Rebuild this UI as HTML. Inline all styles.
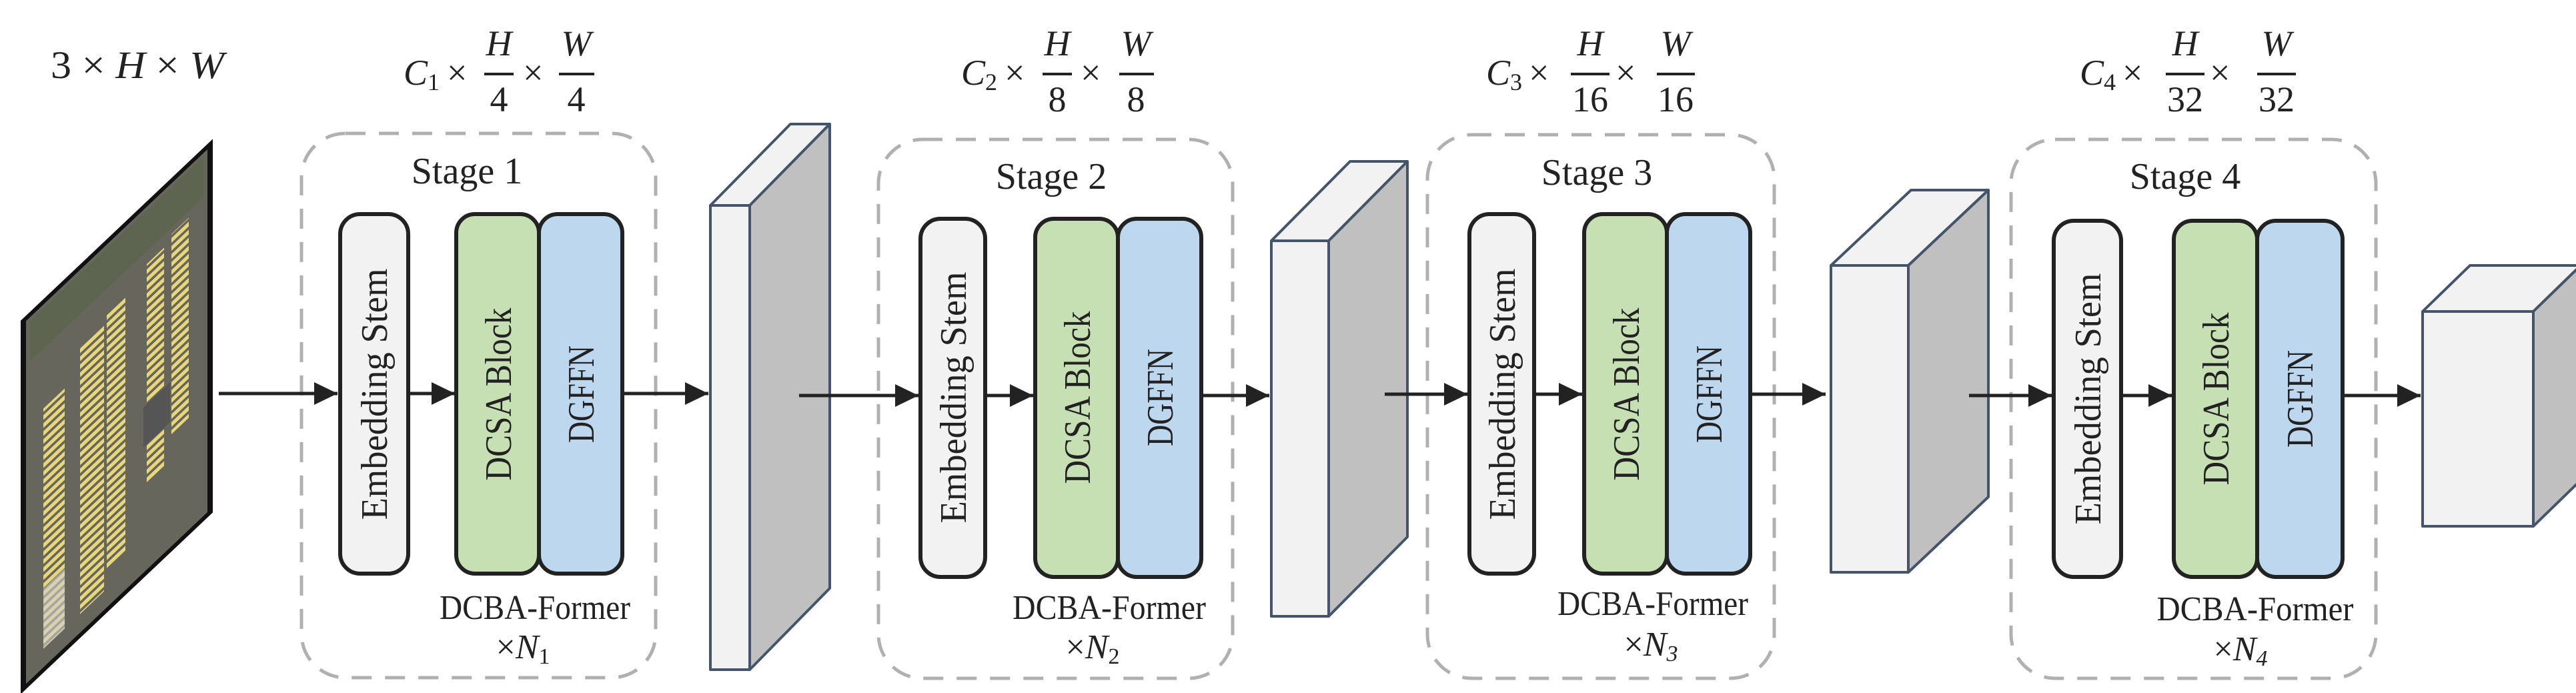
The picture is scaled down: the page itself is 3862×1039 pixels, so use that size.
<!DOCTYPE html>
<html><head><meta charset="utf-8"><style>
html,body{margin:0;padding:0;background:#fff;}
svg{display:block;}
text{font-family:"Liberation Serif",serif;fill:#222;}
.it{font-style:italic;}
</style></head><body>
<svg width="3862" height="1039" viewBox="0 0 3862 1039" xmlns="http://www.w3.org/2000/svg">
<defs>
<marker id="ah" markerWidth="8" markerHeight="8" refX="7" refY="4" orient="auto" markerUnits="strokeWidth">
<path d="M0,0.6 L7,4 L0,7.4 z" fill="#222"/>
</marker>
<pattern id="bus" width="40" height="12" patternUnits="userSpaceOnUse">
<rect x="0" y="2" width="40" height="7" fill="#e8d77a"/>
</pattern>
</defs>

<!-- input image -->
<g transform="matrix(1,-0.946,0,1,35,481)">
<rect x="0" y="0" width="280" height="552" fill="#66665c" stroke="#111" stroke-width="8"/>
<rect x="10" y="10" width="260" height="60" fill="#5d6450"/>
<rect x="30" y="160" width="32" height="360" fill="url(#bus)"/>
<rect x="85" y="120" width="36" height="400" fill="url(#bus)"/>
<rect x="125" y="110" width="28" height="380" fill="url(#bus)"/>
<rect x="185" y="90" width="26" height="330" fill="url(#bus)"/>
<rect x="222" y="80" width="26" height="300" fill="url(#bus)"/>
<rect x="30" y="430" width="32" height="90" fill="#cfcfcf" opacity="0.6"/>
<rect x="180" y="300" width="40" height="60" fill="#555"/>
</g>

<!-- top labels -->
<text x="76" y="117" font-size="58" textLength="260" lengthAdjust="spacingAndGlyphs">3 × <tspan class="it">H</tspan> × <tspan class="it">W</tspan></text>

<g font-size="54">
<text x="605" y="127" class="it">C<tspan font-size="36" dy="8" font-style="normal">1</tspan></text>
<text x="670" y="127">×</text>
<text x="748" y="83" class="it" text-anchor="middle">H</text>
<line x1="726" y1="111" x2="770" y2="111" stroke="#222" stroke-width="4"/>
<text x="748" y="167" text-anchor="middle">4</text>
<text x="784" y="127">×</text>
<text x="864" y="83" class="it" text-anchor="middle">W</text>
<line x1="838" y1="111" x2="891" y2="111" stroke="#222" stroke-width="4"/>
<text x="864" y="167" text-anchor="middle">4</text>
</g>

<g font-size="54">
<text x="1441" y="127" class="it">C<tspan font-size="36" dy="8" font-style="normal">2</tspan></text>
<text x="1506" y="127">×</text>
<text x="1585" y="83" class="it" text-anchor="middle">H</text>
<line x1="1563" y1="111" x2="1607" y2="111" stroke="#222" stroke-width="4"/>
<text x="1585" y="167" text-anchor="middle">8</text>
<text x="1620" y="127">×</text>
<text x="1703" y="83" class="it" text-anchor="middle">W</text>
<line x1="1678" y1="111" x2="1730" y2="111" stroke="#222" stroke-width="4"/>
<text x="1703" y="167" text-anchor="middle">8</text>
</g>

<g font-size="54">
<text x="2228" y="127" class="it">C<tspan font-size="36" dy="8" font-style="normal">3</tspan></text>
<text x="2292" y="127">×</text>
<text x="2384" y="83" class="it" text-anchor="middle">H</text>
<line x1="2355" y1="111" x2="2413" y2="111" stroke="#222" stroke-width="4"/>
<text x="2384" y="167" text-anchor="middle">16</text>
<text x="2422" y="127">×</text>
<text x="2512" y="83" class="it" text-anchor="middle">W</text>
<line x1="2484" y1="111" x2="2541" y2="111" stroke="#222" stroke-width="4"/>
<text x="2512" y="167" text-anchor="middle">16</text>
</g>

<g font-size="54">
<text x="3118" y="127" class="it">C<tspan font-size="36" dy="8" font-style="normal">4</tspan></text>
<text x="3182" y="127">×</text>
<text x="3276" y="83" class="it" text-anchor="middle">H</text>
<line x1="3247" y1="111" x2="3305" y2="111" stroke="#222" stroke-width="4"/>
<text x="3276" y="167" text-anchor="middle">32</text>
<text x="3313" y="127">×</text>
<text x="3413" y="83" class="it" text-anchor="middle">W</text>
<line x1="3384" y1="111" x2="3442" y2="111" stroke="#222" stroke-width="4"/>
<text x="3413" y="167" text-anchor="middle">32</text>
</g>

<!-- stage boxes -->
<g fill="none" stroke="#b0b0b0" stroke-width="5" stroke-dasharray="30 20">
<rect x="452" y="200" width="531" height="816" rx="66"/>
<rect x="1317" y="209" width="531" height="808" rx="66"/>
<rect x="2140" y="202" width="520" height="815" rx="66"/>
<rect x="3015" y="209" width="547" height="808" rx="66"/>
</g>
<g font-size="56" text-anchor="middle">
<text x="700" y="275">Stage 1</text>
<text x="1576" y="283">Stage 2</text>
<text x="2394" y="277">Stage 3</text>
<text x="3276" y="283">Stage 4</text>
</g>

<!-- blocks -->
<g stroke="#222" stroke-width="6">
<rect x="510" y="321" width="102" height="539" rx="30" fill="#f2f2f2"/>
<rect x="684" y="321" width="124" height="539" rx="28" fill="#c6e0b4"/>
<rect x="808" y="321" width="125" height="539" rx="28" fill="#bdd7ee"/>

<rect x="1380" y="328" width="97" height="537" rx="30" fill="#f2f2f2"/>
<rect x="1552" y="328" width="124" height="537" rx="28" fill="#c6e0b4"/>
<rect x="1676" y="328" width="125" height="537" rx="28" fill="#bdd7ee"/>

<rect x="2203" y="321" width="97" height="539" rx="30" fill="#f2f2f2"/>
<rect x="2375" y="321" width="124" height="539" rx="28" fill="#c6e0b4"/>
<rect x="2499" y="321" width="125" height="539" rx="28" fill="#bdd7ee"/>

<rect x="3079" y="331" width="101" height="534" rx="30" fill="#f2f2f2"/>
<rect x="3259" y="331" width="125" height="534" rx="28" fill="#c6e0b4"/>
<rect x="3384" y="331" width="128" height="534" rx="28" fill="#bdd7ee"/>
</g>

<g font-size="56" text-anchor="middle" lengthAdjust="spacingAndGlyphs">
<text transform="translate(580,591) rotate(-90)" textLength="377" lengthAdjust="spacingAndGlyphs">Embedding Stem</text>
<text transform="translate(766,591) rotate(-90)" textLength="259" lengthAdjust="spacingAndGlyphs">DCSA Block</text>
<text transform="translate(890,591) rotate(-90)" textLength="146" lengthAdjust="spacingAndGlyphs">DGFFN</text>

<text transform="translate(1448,596) rotate(-90)" textLength="377" lengthAdjust="spacingAndGlyphs">Embedding Stem</text>
<text transform="translate(1634,596) rotate(-90)" textLength="259" lengthAdjust="spacingAndGlyphs">DCSA Block</text>
<text transform="translate(1758,596) rotate(-90)" textLength="146" lengthAdjust="spacingAndGlyphs">DGFFN</text>

<text transform="translate(2271,591) rotate(-90)" textLength="377" lengthAdjust="spacingAndGlyphs">Embedding Stem</text>
<text transform="translate(2457,591) rotate(-90)" textLength="259" lengthAdjust="spacingAndGlyphs">DCSA Block</text>
<text transform="translate(2581,591) rotate(-90)" textLength="146" lengthAdjust="spacingAndGlyphs">DGFFN</text>

<text transform="translate(3149,598) rotate(-90)" textLength="377" lengthAdjust="spacingAndGlyphs">Embedding Stem</text>
<text transform="translate(3341,598) rotate(-90)" textLength="259" lengthAdjust="spacingAndGlyphs">DCSA Block</text>
<text transform="translate(3467,598) rotate(-90)" textLength="146" lengthAdjust="spacingAndGlyphs">DGFFN</text>
</g>

<g font-size="52" text-anchor="middle">
<text x="802" y="928" textLength="286" lengthAdjust="spacingAndGlyphs">DCBA-Former</text>
<text x="784" y="987">×<tspan class="it">N</tspan><tspan font-size="34" dy="8">1</tspan></text>
<text x="1663" y="928" textLength="290" lengthAdjust="spacingAndGlyphs">DCBA-Former</text>
<text x="1638" y="987">×<tspan class="it">N</tspan><tspan font-size="34" dy="8">2</tspan></text>
<text x="2478" y="922" textLength="286" lengthAdjust="spacingAndGlyphs">DCBA-Former</text>
<text x="2475" y="983">×<tspan class="it">N</tspan><tspan font-size="34" dy="8" class="it">3</tspan></text>
<text x="3381" y="930" textLength="295" lengthAdjust="spacingAndGlyphs">DCBA-Former</text>
<text x="3359" y="990">×<tspan class="it">N</tspan><tspan font-size="34" dy="8" class="it">4</tspan></text>
</g>

<!-- feature maps -->
<g stroke="#44546a" stroke-width="4" stroke-linejoin="round">
<polygon points="1065,308 1185,186 1244,186 1124,308" fill="#f2f2f2"/>
<polygon points="1124,308 1244,186 1244,882 1124,1004" fill="#c0c0c0"/>
<rect x="1065" y="308" width="59" height="696" fill="#f2f2f2"/>

<polygon points="1906,361 2024,242 2110,242 1992,361" fill="#f2f2f2"/>
<polygon points="1992,361 2110,242 2110,805 1992,924" fill="#c0c0c0"/>
<rect x="1906" y="361" width="86" height="563" fill="#f2f2f2"/>

<polygon points="2745,398 2865,285 2981,285 2861,398" fill="#f2f2f2"/>
<polygon points="2861,398 2981,285 2981,745 2861,858" fill="#c0c0c0"/>
<rect x="2745" y="398" width="116" height="460" fill="#f2f2f2"/>

<polygon points="3632,467 3703,398 3869,398 3798,467" fill="#f2f2f2"/>
<polygon points="3798,467 3869,398 3869,720 3798,789" fill="#c0c0c0"/>
<rect x="3632" y="467" width="166" height="322" fill="#f2f2f2"/>
</g>

<!-- arrows -->
<g stroke="#222" stroke-width="5" fill="none" marker-end="url(#ah)">
<line x1="328" y1="590" x2="506" y2="590"/>
<line x1="612" y1="590" x2="682" y2="590"/>
<line x1="933" y1="590" x2="1062" y2="590"/>

<line x1="1198" y1="593" x2="1377" y2="593"/>
<line x1="1477" y1="593" x2="1549" y2="593"/>
<line x1="1801" y1="593" x2="1903" y2="593"/>

<line x1="2076" y1="591" x2="2200" y2="591"/>
<line x1="2300" y1="591" x2="2372" y2="591"/>
<line x1="2624" y1="591" x2="2737" y2="591"/>

<line x1="2952" y1="593" x2="3076" y2="593"/>
<line x1="3180" y1="593" x2="3256" y2="593"/>
<line x1="3512" y1="593" x2="3629" y2="593"/>
</g>
</svg>
</body></html>
